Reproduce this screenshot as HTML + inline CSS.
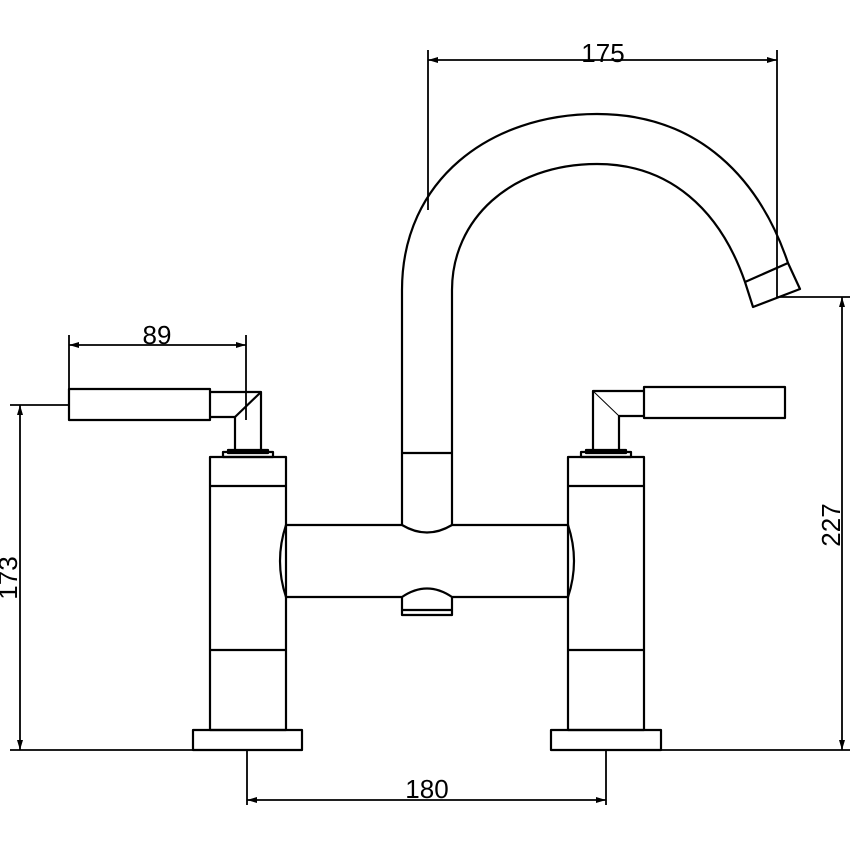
<!DOCTYPE html>
<html><head><meta charset="utf-8"><style>html,body{margin:0;padding:0;background:#fff}svg{display:block}</style></head>
<body>
<svg width="850" height="850" viewBox="0 0 850 850" xmlns="http://www.w3.org/2000/svg" fill="none" stroke="#000" stroke-width="2.2" stroke-linejoin="round">
<!-- spout -->
<path d="M402,525 L402,290 C402,180 490,114 597,114 C700,114 760,180 788,263 L800,289 L753,307 L745,282 C720,210 670,164 597,164 C510,164 452,220 452,290 L452,525"/>
<line x1="745" y1="282" x2="788" y2="263"/>
<line x1="402" y1="453" x2="452" y2="453"/>
<!-- body -->
<path d="M286,525 L402,525 Q427,540 452,525 L568,525 Q580,561 568,597 L452,597 Q427,580 402,597 L286,597 Q274,561 286,525 Z"/>
<path d="M402,597 L402,615 L452,615 L452,597"/>
<line x1="402" y1="610" x2="452" y2="610"/>
<!-- left column -->
<rect x="210" y="457" width="76" height="273"/>
<line x1="210" y1="486" x2="286" y2="486"/>
<line x1="210" y1="650" x2="286" y2="650"/>
<rect x="193" y="730" width="109" height="20"/>
<rect x="223" y="452" width="50" height="5"/>
<rect x="228" y="450" width="40" height="3" fill="#000"/>
<!-- left handle -->
<rect x="69" y="389" width="141" height="31"/>
<path d="M210,392 L261,392 L261,451 L235,451 L235,417 L210,417"/>
<line x1="235" y1="417" x2="261" y2="392"/>
<!-- right column -->
<rect x="568" y="457" width="76" height="273"/>
<line x1="568" y1="486" x2="644" y2="486"/>
<line x1="568" y1="650" x2="644" y2="650"/>
<rect x="551" y="730" width="110" height="20"/>
<rect x="581" y="452" width="50" height="5"/>
<rect x="586" y="450" width="40" height="3" fill="#000"/>
<!-- right handle -->
<rect x="644" y="387" width="141" height="31"/>
<path d="M644,391 L593,391 L593,451 L619,451 L619,416 L644,416"/>
<line x1="593" y1="391" x2="619" y2="416" stroke-width="1"/>
<!-- dimensions -->
<g stroke-width="1.8">
<line x1="428" y1="50" x2="428" y2="210"/>
<line x1="777" y1="50" x2="777" y2="297"/>
<line x1="428" y1="60" x2="777" y2="60"/>
<line x1="69" y1="335" x2="69" y2="389"/>
<line x1="246" y1="335" x2="246" y2="420"/>
<line x1="69" y1="345" x2="246" y2="345"/>
<line x1="10" y1="405" x2="69" y2="405"/>
<line x1="10" y1="750" x2="193" y2="750"/>
<line x1="20" y1="405" x2="20" y2="750"/>
<line x1="777" y1="297" x2="850" y2="297"/>
<line x1="661" y1="750" x2="850" y2="750"/>
<line x1="842" y1="297" x2="842" y2="750"/>
<line x1="247" y1="750" x2="247" y2="805"/>
<line x1="606" y1="750" x2="606" y2="805"/>
<line x1="247" y1="800" x2="606" y2="800"/>
</g>
<g fill="#000" stroke="none">
<path d="M428,60 l10,-3 v6z"/><path d="M777,60 l-10,-3 v6z"/>
<path d="M69,345 l10,-3 v6z"/><path d="M246,345 l-10,-3 v6z"/>
<path d="M20,405 l-3,10 h6z"/><path d="M20,750 l-3,-10 h6z"/>
<path d="M842,297 l-3,10 h6z"/><path d="M842,750 l-3,-10 h6z"/>
<path d="M247,800 l10,-3 v6z"/><path d="M606,800 l-10,-3 v6z"/>
</g>
<g fill="#000" stroke="none" font-family="Liberation Sans, sans-serif" font-size="26" text-anchor="middle">
<text x="603" y="62">175</text>
<text x="157" y="344">89</text>
<text x="427" y="798">180</text>
<text transform="translate(17,578) rotate(-90)">173</text>
<text transform="translate(840,525) rotate(-90)">227</text>
</g>
</svg>
</body></html>
